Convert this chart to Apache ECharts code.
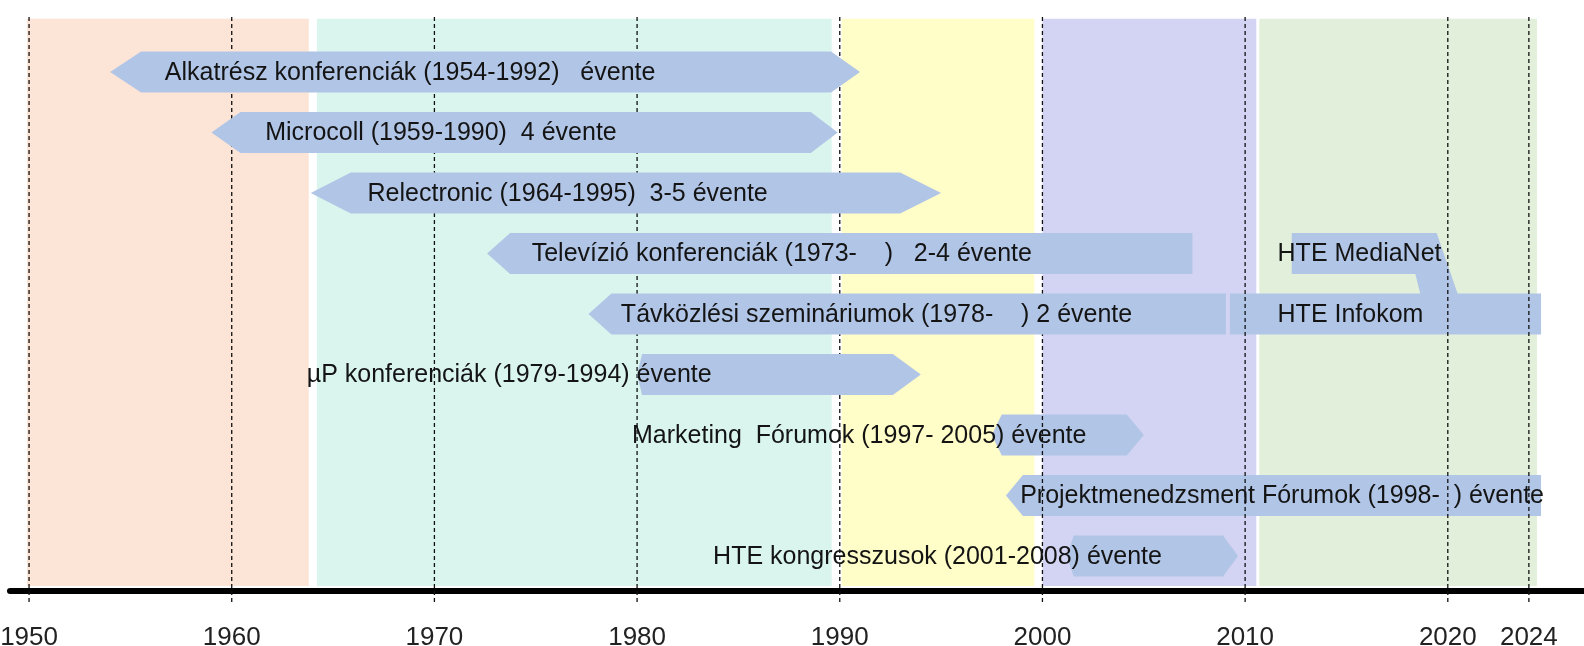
<!DOCTYPE html>
<html>
<head>
<meta charset="utf-8">
<script src="https://cdn.jsdelivr.net/npm/echarts@6/dist/echarts.min.js"></script>
<style>
  html, body { margin: 0; padding: 0; background: #fff; }
  #timeline { width: 1584px; height: 646px; }
</style>
</head>
<body>
<div id="timeline"></div>
<script>
// year ticks shown under the axis
var tickYears = [1950, 1960, 1970, 1980, 1990, 2000, 2010, 2020, 2024];

// coloured eras behind the arrows
var eraStart = [1949.9, 1964.2, 1990.1, 2000.0, 2010.7];
var eraEnd = [1963.8, 1989.6, 1999.6, 2010.55, 2024.4];

// one arrow per row, top to bottom
var rowLabels = [
    'Alkatrész konferenciák (1954-1992)   évente',
    'Microcoll (1959-1990)  4 évente',
    'Relectronic (1964-1995)  3-5 évente',
    'Televízió konferenciák (1973-    )   2-4 évente',
    'Távközlési szemináriumok (1978-    ) 2 évente',
    'µP konferenciák (1979-1994) évente',
    'Marketing  Fórumok (1997- 2005) évente',
    'Projektmenedzsment Fórumok (1998-  ) évente',
    'HTE kongresszusok (2001-2008) évente'
];
var rowStart = [1954.0, 1959.0, 1963.9, 1972.6, 1977.6, 1980.0, 1997.5, 1998.2, 2001.2];
var rowEnd = [1991.0, 1989.9, 1995.0, 2007.4, 2009.05, 1994.0, 2005.0, 2024.6, 2009.65];
// year where the text of each row starts
var rowLabelAt = [1956.7, 1961.65, 1966.7, 1974.8, 1979.2, 1963.7, 1979.75, 1998.9, 1983.75];

// HTE boxes on the right (MediaNet joins into Infokom)
var hteLabels = ['HTE MediaNet', 'HTE Infokom'];
var hteRow = [3, 4];
var hteStart = [2012.3, 2009.25];
var hteEnd = [2019.45, 2024.6];
var mediaNetJoin = [2018.4, 2018.65, 2020.5]; // inner top, inner bottom, outer bottom

// --- styles ---
var tipLeft = [31, 29, 40, 23, 23, 5, 10, 17, 7];   // px, 0 = flat end
var tipRight = [29, 27, 41, 0, 0, 28, 17, 0, 15];
var eraColors = ['#FCE4D6', '#DAF5EE', '#FFFDC8', '#D3D3F3', '#E2EFDA'];
var arrowColor = '#B1C5E6';
var textColor = '#141414';
var fontFamily = '"Liberation Sans", Arial, sans-serif';
var ROW_HALF = 0.34;     // half arrow height in row units
var ERA_TOP = -0.88;
var ERA_BOTTOM = 8.495;

var dom = document.getElementById('timeline');
var myChart = echarts.init(dom, null, { renderer: 'canvas' });

function arrowShape(api, row, x0y, x1y, tl, tr) {
    var a = api.coord([x0y, row]);
    var b = api.coord([x1y, row]);
    var h = api.size([0, 1])[1] * ROW_HALF;
    var cy = a[1], x0 = a[0], x1 = b[0];
    var pts = [];
    pts.push([x0 + tl, cy - h]);
    pts.push([x1 - tr, cy - h]);
    if (tr > 0) {
        pts.push([x1, cy]);
    } else {
        pts.push([x1, cy + h]);
    }
    pts.push([x1 - tr, cy + h]);
    pts.push([x0 + tl, cy + h]);
    if (tl > 0) {
        pts.push([x0, cy]);
    } else {
        pts.push([x0, cy - h]);
    }
    return pts;
}

function labelEl(api, text, year, row) {
    var p = api.coord([year, row]);
    return {
        type: 'text',
        z2: 10,
        style: {
            text: text,
            x: p[0],
            y: p[1] + 1,
            fill: textColor,
            fontSize: 25,
            fontFamily: fontFamily,
            align: 'left',
            verticalAlign: 'middle'
        }
    };
}

function renderRow(params, api) {
    var i = api.value(2);
    var pts = arrowShape(api, i, rowStart[i], rowEnd[i], tipLeft[i], tipRight[i]);
    return {
        type: 'group',
        children: [
            { type: 'polygon', shape: { points: pts }, style: { fill: arrowColor } },
            labelEl(api, rowLabels[i], rowLabelAt[i], i)
        ]
    };
}

// upper rows cover the dashed lines, lower rows let them through
var rowsTop = [], rowsBottom = [];
rowLabels.forEach(function (l, i) {
    (i < 6 ? rowsTop : rowsBottom).push([rowStart[i], rowEnd[i], i]);
});

var option = {
    animation: false,
    grid: { left: 10, right: 0, top: 14, bottom: 55, containLabel: false, outerBoundsMode: 'none' },
    xAxis: {
        type: 'value',
        min: 1949.06,
        max: 2026.72,
        splitLine: { show: false },
        axisTick: { show: false },
        axisLine: { show: true, onZero: false, lineStyle: { color: '#000', width: 6 } },
        axisLabel: {
            customValues: tickYears,
            formatter: function (v) { return String(v); },
            color: '#222',
            fontSize: 26,
            fontFamily: fontFamily,
            margin: 34
        }
    },
    yAxis: {
        type: 'value',
        inverse: true,
        min: -0.9587,
        max: 8.578,
        show: false
    },
    series: [
        {
            // era bands
            type: 'custom',
            z: 1,
            data: eraStart.map(function (s, i) { return [s, eraEnd[i], i]; }),
            encode: { x: [0, 1], y: 2 },
            renderItem: function (params, api) {
                var i = api.value(2);
                var a = api.coord([api.value(0), ERA_TOP]);
                var b = api.coord([api.value(1), ERA_BOTTOM]);
                return {
                    type: 'rect',
                    shape: { x: a[0], y: a[1], width: b[0] - a[0], height: b[1] - a[1] },
                    style: { fill: eraColors[i] }
                };
            }
        },
        {
            // lower arrows (under the dashed lines)
            type: 'custom',
            z: 2,
            data: rowsBottom,
            encode: { x: [0, 1], y: 2 },
            renderItem: renderRow
        },
        {
            // HTE MediaNet / Infokom
            type: 'custom',
            z: 2,
            data: hteLabels.map(function (l, i) { return [hteStart[i], hteEnd[i], hteRow[i]]; }),
            encode: { x: [0, 1], y: 2 },
            renderItem: function (params, api) {
                var k = params.dataIndex;
                var row = hteRow[k];
                var h = api.size([0, 1])[1] * ROW_HALF;
                var pts;
                if (k === 0) {
                    var top = api.coord([hteStart[k], row])[1] - h;
                    var bot = top + 2 * h;
                    var nextTop = api.coord([0, hteRow[1]])[1] - h;
                    pts = [
                        [api.coord([hteStart[k], row])[0], top],
                        [api.coord([hteEnd[k], row])[0], top],
                        [api.coord([mediaNetJoin[2], row])[0], nextTop + 1],
                        [api.coord([mediaNetJoin[1], row])[0], nextTop + 1],
                        [api.coord([mediaNetJoin[0], row])[0], bot],
                        [api.coord([hteStart[k], row])[0], bot]
                    ];
                } else {
                    pts = arrowShape(api, row, hteStart[k], hteEnd[k], 0, 0);
                }
                return {
                    type: 'group',
                    children: [
                        { type: 'polygon', shape: { points: pts }, style: { fill: arrowColor } },
                        labelEl(api, hteLabels[k], 2011.6, row)
                    ]
                };
            }
        },
        {
            // dashed year lines
            type: 'custom',
            z: 3,
            data: tickYears.map(function (y) { return [y, 0]; }),
            encode: { x: 0, y: 1 },
            renderItem: function (params, api) {
                var cs = params.coordSys;
                var x = api.coord([api.value(0), 0])[0];
                return {
                    type: 'line',
                    shape: { x1: x, y1: cs.y + 3, x2: x, y2: cs.y + cs.height + 12 },
                    style: { stroke: '#111', lineWidth: 1.3, lineDash: [4, 3] }
                };
            }
        },
        {
            // upper arrows (cover the dashed lines)
            type: 'custom',
            z: 4,
            data: rowsTop,
            encode: { x: [0, 1], y: 2 },
            renderItem: renderRow
        }
    ]
};

myChart.setOption(option);
window.addEventListener('resize', myChart.resize);
</script>
</body>
</html>
